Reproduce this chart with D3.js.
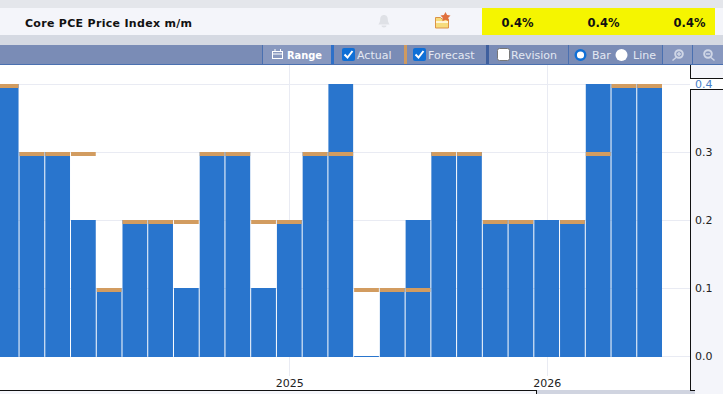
<!DOCTYPE html>
<html>
<head>
<meta charset="utf-8">
<script src="https://cdn.jsdelivr.net/npm/d3@7"></script>
<style>
html, body { margin: 0; padding: 0; background: #fff; overflow: hidden; }
text { font-family: "DejaVu Sans", sans-serif; }
</style>
</head>
<body>
<div id="chart"></div>
<script>
const months = ['2024-02','2024-03','2024-04','2024-05','2024-06','2024-07','2024-08','2024-09','2024-10','2024-11','2024-12',
  '2025-01','2025-02','2025-03','2025-04','2025-05','2025-06','2025-07','2025-08','2025-09','2025-12',
  '2026-01','2026-02','2026-03','2026-04','2026-05'];
const actual = [0.4,0.3,0.3,0.2,0.1,0.2,0.2,0.1,0.3,0.3,0.1,0.2,0.3,0.4,0.0,0.1,0.2,0.3,0.3,0.2,0.2,0.2,0.2,0.4,0.4,0.4];
const forecast = [0.4,0.3,0.3,0.3,0.1,0.2,0.2,0.2,0.3,0.3,0.2,0.2,0.3,0.3,0.1,0.1,0.1,0.3,0.3,0.2,0.2,null,0.2,0.3,0.4,0.4];
const yTicks = [0,0.1,0.2,0.3,0.4];
const yearTicks = [['2025-01','2025'],['2026-01','2026']];
const headerValues = ['0.4%','0.4%','0.4%'];

const WIDTH = 723, HEIGHT = 394;

const svg = d3.select('#chart').append('svg')
  .attr('width', WIDTH).attr('height', HEIGHT)
  .style('display', 'block');

// page background and header rows
svg.append('rect').attr('width', WIDTH).attr('height', 8).attr('fill', '#e4e6eb');
svg.append('rect').attr('y', 8).attr('width', WIDTH).attr('height', 27).attr('fill', '#f4f5fa');
svg.append('rect').attr('y', 35).attr('width', WIDTH).attr('height', 10).attr('fill', '#d5d9e2');
svg.append('rect').attr('x', 482).attr('y', 8).attr('width', 233).attr('height', 27).attr('fill', '#f5f500');

svg.append('text').text('Core PCE Price Index m/m')
  .attr('x', 25).attr('y', 26.5)
  .attr('font-size', 11).attr('font-weight', 'bold').attr('fill', '#111')
  .attr('textLength', 167);

svg.selectAll('.head-val').data(headerValues).join('text')
  .attr('class', 'head-val')
  .text(d => d)
  .attr('x', (d, i) => 517.5 + i * 86)
  .attr('y', 26.5)
  .attr('text-anchor', 'middle')
  .attr('font-size', 11.5).attr('font-weight', 'bold').attr('fill', '#111');

// bell icon
svg.append('path')
  .attr('d', 'M384 15c-2.800 0-3.800 2.200-3.800 4.600 0 2.400-1 3.600-1.800 4.900h11.200c-.8-1.300-1.800-2.500-1.800-4.900 0-2.400-1-4.600-3.800-4.600zM381.500 25.500h5c0 1.200-1 1.900-2.500 1.900s-2.500-.7-2.500-1.900z')
  .attr('fill', '#dfe1e6');

// folder with star icon
svg.append('path').attr('d', 'M435.500 17.500h5l1.500 1.500h6.500v9h-13z').attr('fill', '#f6dc7c').attr('stroke', '#dc9345');
svg.append('rect').attr('x', 436).attr('y', 21).attr('width', 12).attr('height', 2).attr('fill', '#fff6d8');
svg.append('path').attr('d', 'M445.500 12l1.600 3 3.400.5-2.400 2.400.5 3.300-3.100-1.500-3.100 1.500.5-3.300-2.400-2.400 3.400-.5z').attr('fill', '#e0703f');

// toolbar
const toolbar = svg.append('g');
toolbar.append('rect').attr('y', 45).attr('width', WIDTH).attr('height', 20).attr('fill', '#7a8cb6');
toolbar.append('rect').attr('y', 64).attr('width', WIDTH).attr('height', 1).attr('fill', '#4a70b0');
toolbar.append('rect').attr('x', 263).attr('y', 45).attr('width', 68).attr('height', 19).attr('fill', '#8898bf');
toolbar.append('rect').attr('x', 663).attr('y', 45).attr('width', 60).attr('height', 19).attr('fill', '#8898bf');

const separators = [[262,1,'#4a70b0'],[331,3,'#2e70c8'],[404,3,'#cf9a5f'],[486,3,'#3e5f9e'],[568,1,'#4a70b0'],[662,1,'#4a70b0'],[692,1,'#4a70b0']];
toolbar.selectAll('.sep').data(separators).join('rect')
  .attr('class', 'sep')
  .attr('x', d => d[0]).attr('y', 45).attr('width', d => d[1]).attr('height', 19).attr('fill', d => d[2]);

const toolbarLabels = [['Range',287,'bold','#fff',35],['Actual',357,'normal','#e3e8f2',null],['Forecast',428,'normal','#e3e8f2',null],
  ['Revision',511,'normal','#e3e8f2',null],['Bar',592,'normal','#e3e8f2',null],['Line',633,'normal','#e3e8f2',null]];
toolbar.selectAll('.tb').data(toolbarLabels).join('text')
  .attr('class', 'tb')
  .text(d => d[0])
  .attr('x', d => d[1]).attr('y', 59)
  .attr('font-size', 11).attr('font-weight', d => d[2]).attr('fill', d => d[3])
  .attr('textLength', d => d[4])
  .attr('lengthAdjust', 'spacingAndGlyphs');

// calendar icon
toolbar.append('rect').attr('x', 272.500).attr('y', 51.500).attr('width', 10).attr('height', 7).attr('fill', 'none').attr('stroke', '#fff');
toolbar.append('path').attr('d', 'M272.500 54h10M275 49v2.500M280.500 49v2.500').attr('stroke', '#fff').attr('fill', 'none');

// checkboxes
[342,413].forEach(x0 => {
  toolbar.append('rect').attr('x', x0).attr('y', 48).attr('width', 13).attr('height', 13).attr('rx', 2).attr('fill', '#0f6fd6');
  toolbar.append('path').attr('d', `M${x0 + 2.5} 54.500l3 3 5-6.500`).attr('fill', 'none').attr('stroke', '#fff').attr('stroke-width', 2);
});
toolbar.append('rect').attr('x', 497.500).attr('y', 48.500).attr('width', 12).attr('height', 12).attr('rx', 2).attr('fill', '#fff').attr('stroke', '#777');

// radios
toolbar.append('circle').attr('cx', 580.500).attr('cy', 55).attr('r', 4.800).attr('fill', '#fff').attr('stroke', '#0f6fd6').attr('stroke-width', 2.400);
toolbar.append('circle').attr('cx', 621.500).attr('cy', 55).attr('r', 6).attr('fill', '#fff');

// zoom icons
[[679,true],[708,false]].forEach(([cx, plus]) => {
  toolbar.append('circle').attr('cx', cx).attr('cy', 54).attr('r', 3.800).attr('fill', 'none').attr('stroke', '#cfd6e6').attr('stroke-width', 2);
  toolbar.append('path').attr('d', plus ? `M${cx - 3} 57.500l-3.500 3M${cx - 2} 54h4M${cx} 52v4` : `M${cx + 3} 57.500l3.500 3M${cx - 2} 54h4`)
    .attr('stroke', '#cfd6e6').attr('stroke-width', 1.500).attr('fill', 'none');
});

// chart scales
const x = d3.scaleBand().domain(months).range([-6.2, 663]);
const y = d3.scaleLinear().domain([0, 0.4]).range([356, 84]);

// grid
svg.append('g').selectAll('line').data(yTicks).join('line')
  .attr('x1', 0).attr('x2', 690)
  .attr('y1', d => y(d) + 0.5).attr('y2', d => y(d) + 0.5)
  .attr('stroke', '#e9ebf3');
svg.append('g').selectAll('line').data(yearTicks).join('line')
  .attr('x1', d => Math.floor(x(d[0]) + x.bandwidth() / 2) + 0.5).attr('x2', d => Math.floor(x(d[0]) + x.bandwidth() / 2) + 0.5)
  .attr('y1', 65).attr('y2', 376)
  .attr('stroke', '#e9ebf3');

// bars
const gap = 1;
svg.append('g').selectAll('rect').data(months).join('rect')
  .attr('x', d => x(d))
  .attr('width', x.bandwidth() - gap)
  .attr('y', (d, i) => y(actual[i]))
  .attr('height', (d, i) => y(0) - y(actual[i]) + 1)
  .attr('fill', '#2975cd');

// forecast markers
svg.append('g').selectAll('rect').data(months.filter((d, i) => forecast[i] !== null)).join('rect')
  .attr('x', d => x(d))
  .attr('width', x.bandwidth() - gap)
  .attr('y', d => y(forecast[months.indexOf(d)]))
  .attr('height', 4)
  .attr('fill', '#d29c60');

// axes
const xAxis = d3.axisBottom(x)
  .tickValues(yearTicks.map(d => d[0]))
  .tickFormat(d => yearTicks.find(t => t[0] === d)[1])
  .tickSize(0);
const xG = svg.append('g').attr('transform', 'translate(0,377)').call(xAxis);
xG.select('.domain').remove();
xG.selectAll('text').attr('font-size', 11).attr('fill', '#222').attr('dy', '0.6em')
  .style('font-family', '"DejaVu Sans", sans-serif');

// frame at the bottom and right
svg.append('rect').attr('y', 390).attr('width', WIDTH).attr('height', 4).attr('fill', '#f4f5fa');
svg.append('rect').attr('x', 691).attr('y', 65).attr('width', 32).attr('height', 329).attr('fill', '#f4f5fa');
svg.append('rect').attr('x', 536).attr('y', 390).attr('width', 159).attr('height', 4).attr('fill', '#d0d4e0');
svg.append('rect').attr('y', 390).attr('width', 537).attr('height', 1).attr('fill', '#111');
svg.append('rect').attr('x', 536).attr('y', 390).attr('width', 1).attr('height', 4).attr('fill', '#111');
svg.append('rect').attr('x', 690).attr('y', 390).attr('width', 5).attr('height', 1).attr('fill', '#111');
svg.append('rect').attr('x', 690).attr('y', 65).attr('width', 1).attr('height', 13).attr('fill', '#111');
svg.append('rect').attr('x', 690).attr('y', 90).attr('width', 1).attr('height', 300).attr('fill', '#111');

// box around the current value label
svg.append('rect').attr('x', 690).attr('y', 78).attr('width', 33).attr('height', 12).attr('fill', '#fff');
svg.append('rect').attr('x', 690).attr('y', 78).attr('width', 33).attr('height', 1).attr('fill', '#111');
svg.append('rect').attr('x', 690).attr('y', 89).attr('width', 33).attr('height', 1).attr('fill', '#111');

const yAxis = d3.axisRight(y).tickValues(yTicks).tickFormat(d3.format('.1f')).tickSize(0);
const yG = svg.append('g').attr('transform', 'translate(695,0)').call(yAxis);
yG.select('.domain').remove();
yG.selectAll('text')
  .attr('x', 0)
  .attr('font-size', 11)
  .attr('fill', d => d === 0.4 ? '#4a80c8' : '#222')
  .style('font-family', '"DejaVu Sans", sans-serif');
</script>
</body>
</html>
